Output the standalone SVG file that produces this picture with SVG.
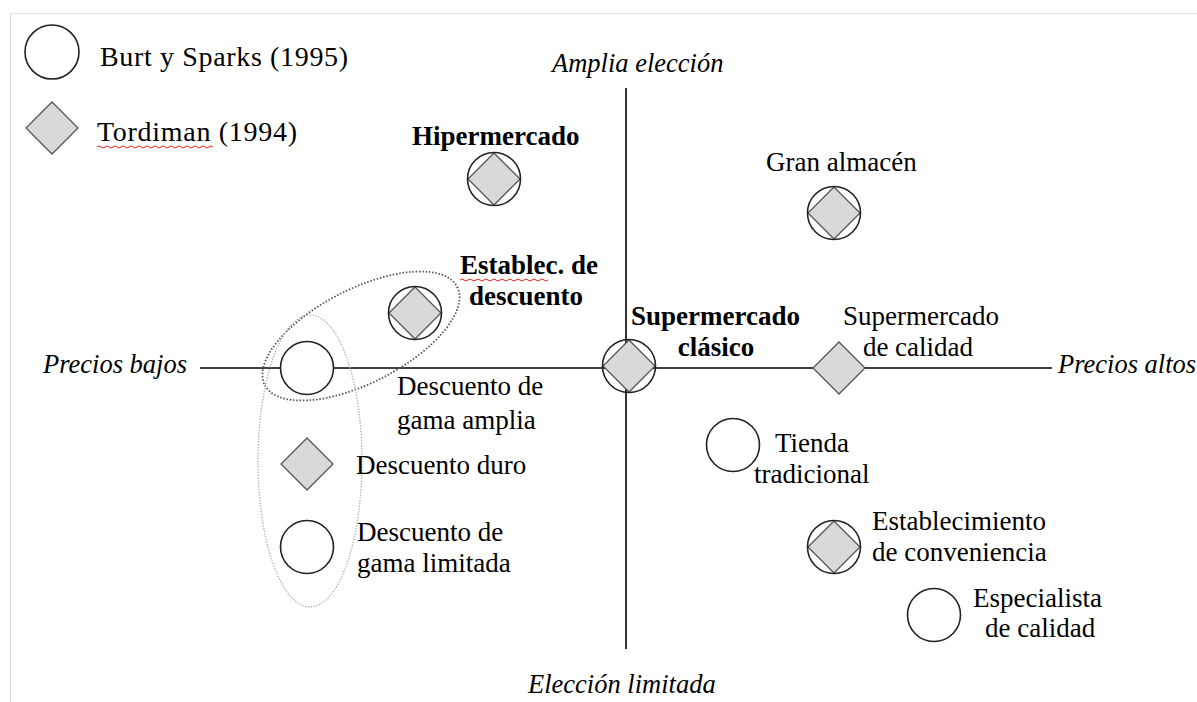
<svg xmlns="http://www.w3.org/2000/svg" width="1197" height="702" viewBox="0 0 1197 702">
<style>
.t{font-family:"Liberation Serif","Times New Roman",serif;font-size:27px;fill:#000}
.lg{font-size:28px}
.b{font-weight:bold}
.i{font-style:italic;font-size:26.5px}
.c{fill:none;stroke:#222;stroke-width:1.6}
.cw{fill:#fff;stroke:#222;stroke-width:1.6}
.d{fill:#d9d9d9;stroke:#555;stroke-width:1.3}
.ax{stroke:#000;stroke-width:1.6;fill:none}
.wav{fill:none;stroke:#e02020;stroke-width:1}
</style>
<defs>
<path id="dia" d="M0,-26 L26,0 L0,26 L-26,0 Z"/>
</defs>
<rect width="1197" height="702" fill="#fff"/>
<path d="M10.5,702 V13.5 H1197" fill="none" stroke="#dcdcdc" stroke-width="1"/>

<g id="connectors">
<line class="ax" x1="626" y1="88" x2="626" y2="649"/>
<line class="ax" x1="200" y1="368" x2="1052" y2="368"/>
<ellipse cx="361" cy="336" rx="108" ry="47" transform="rotate(-27 361 336)" fill="none" stroke="#555" stroke-width="1.8" stroke-dasharray="1.5 1.8"/>
<ellipse cx="310" cy="461" rx="52" ry="146" fill="none" stroke="#aaa" stroke-width="1.3" stroke-dasharray="1.3 1.5"/>
</g>

<g id="legend">
<circle class="cw" cx="52" cy="52" r="27"/>
<text class="t lg" x="100" y="66" textLength="248" lengthAdjust="spacing">Burt y Sparks (1995)</text>
<use href="#dia" x="52" y="128" class="d"/>
<text class="t lg" x="97" y="141" textLength="200" lengthAdjust="spacing">Tordiman (1994)</text>
<path class="wav" d="M97,147 q2,-2 4,0 t4,0 t4,0 t4,0 t4,0 t4,0 t4,0 t4,0 t4,0 t4,0 t4,0 t4,0 t4,0 t4,0 t4,0 t4,0 t4,0 t4,0 t4,0 t4,0 t4,0 t4,0 t4,0 t4,0 t4,0 t4,0 t4,0 t4,0 t4,0"/>
</g>

<g id="axis-labels">
<text class="t i" x="552" y="72">Amplia elección</text>
<text class="t i" x="528" y="693">Elección limitada</text>
<text class="t i" x="43" y="373">Precios bajos</text>
<text class="t i" x="1058" y="373">Precios altos</text>
</g>

<g id="hipermercado">
<use href="#dia" x="494" y="179" class="d"/>
<circle class="c" cx="494" cy="179" r="26.5"/>
<text class="t b" x="412" y="145">Hipermercado</text>
</g>

<g id="gran-almacen">
<use href="#dia" x="834" y="213" class="d"/>
<circle class="c" cx="834" cy="213" r="26.5"/>
<text class="t" x="766" y="171">Gran almacén</text>
</g>

<g id="establec-descuento">
<use href="#dia" x="415" y="313" class="d"/>
<circle class="c" cx="415" cy="313" r="26.5"/>
<text class="t b" x="460" y="274">Establec. de</text>
<text class="t b" x="469" y="305">descuento</text>
<path class="wav" d="M460,280 q2,-2 4,0 t4,0 t4,0 t4,0 t4,0 t4,0 t4,0 t4,0 t4,0 t4,0 t4,0 t4,0 t4,0 t4,0 t4,0 t4,0 t4,0 t4,0 t4,0 t4,0 t4,0 t4,0"/>
</g>

<g id="supermercado-clasico">
<use href="#dia" x="629" y="366" class="d"/>
<circle class="c" cx="629" cy="366" r="26.5"/>
<text class="t b" x="631" y="325">Supermercado</text>
<text class="t b" x="716" y="356" text-anchor="middle">clásico</text>
</g>

<g id="supermercado-calidad">
<use href="#dia" x="839" y="368" class="d"/>
<text class="t" x="843" y="325">Supermercado</text>
<text class="t" x="918" y="356" text-anchor="middle">de calidad</text>
</g>

<g id="descuento-gama-amplia">
<circle class="cw" cx="307" cy="368" r="26.5"/>
<text class="t" x="397" y="395">Descuento de</text>
<text class="t" x="397" y="429">gama amplia</text>
</g>

<g id="descuento-duro">
<use href="#dia" x="307" y="464" class="d"/>
<text class="t" x="356" y="474">Descuento duro</text>
</g>

<g id="descuento-gama-limitada">
<circle class="cw" cx="307" cy="547" r="26.5"/>
<text class="t" x="357" y="541">Descuento de</text>
<text class="t" x="357" y="572">gama limitada</text>
</g>

<g id="tienda-tradicional">
<circle class="cw" cx="733" cy="445" r="26.5"/>
<text class="t" x="775" y="452">Tienda</text>
<text class="t" x="754" y="483">tradicional</text>
</g>

<g id="establecimiento-conveniencia">
<use href="#dia" x="834" y="547" class="d"/>
<circle class="c" cx="834" cy="547" r="26.5"/>
<text class="t" x="872" y="530">Establecimiento</text>
<text class="t" x="872" y="561">de conveniencia</text>
</g>

<g id="especialista-calidad">
<circle class="cw" cx="934" cy="615" r="26.5"/>
<text class="t" x="973" y="607">Especialista</text>
<text class="t" x="985" y="637">de calidad</text>
</g>
</svg>
